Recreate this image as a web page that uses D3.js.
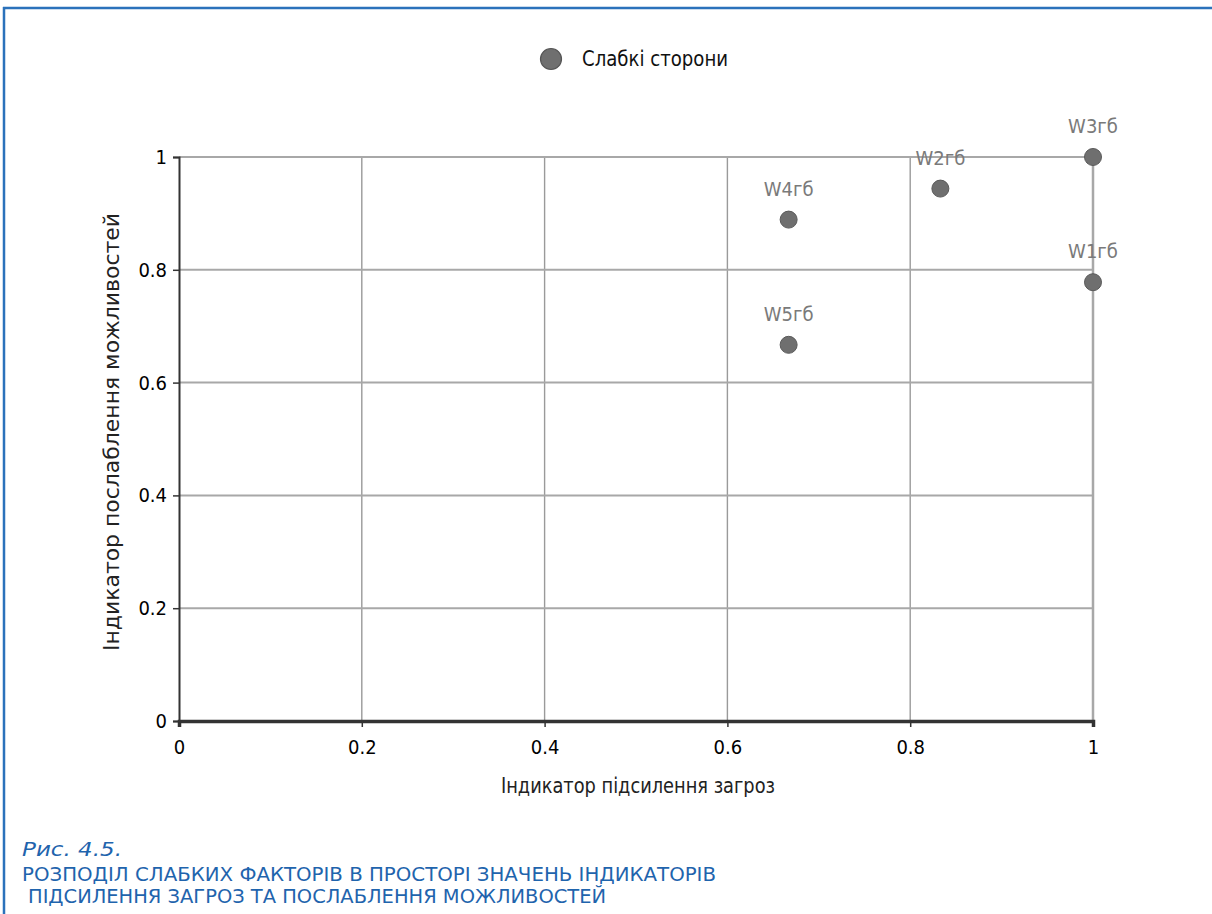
<!DOCTYPE html>
<html><head><meta charset="utf-8">
<script src="https://cdn.jsdelivr.net/npm/d3@7"></script>
<style>
html,body{margin:0;padding:0;background:#fff;}
svg{display:block;}
</style></head>
<body>
<svg id="chart" width="1212" height="914"></svg>
<script>
const labels = ["W1гб","W2гб","W3гб","W4гб","W5гб"];
const xValues = [1, 0.833, 1, 0.667, 0.667];
const yValues = [0.778, 0.944, 1, 0.889, 0.667];
const xTicks = [0, 0.2, 0.4, 0.6, 0.8, 1];
const yTicks = [0, 0.2, 0.4, 0.6, 0.8, 1];
const tickLabels = ["0","0.2","0.4","0.6","0.8","1"];
const seriesName = "Слабкі сторони";
const xTitle = "Індикатор підсилення загроз";
const yTitle = "Індикатор послаблення можливостей";
const captionLines = ["Рис.  4.5.", "РОЗПОДІЛ СЛАБКИХ ФАКТОРІВ В ПРОСТОРІ ЗНАЧЕНЬ ІНДИКАТОРІВ", " ПІДСИЛЕННЯ ЗАГРОЗ ТА ПОСЛАБЛЕННЯ МОЖЛИВОСТЕЙ"];

const svg = d3.select("#chart");
const font = "'DejaVu Sans Condensed','Liberation Sans',Arial,sans-serif";
const capFont = "'DejaVu Sans Condensed','DejaVu Sans',sans-serif";
const blue = "#1f64ad";

// frame
svg.append("line").attr("x1",3).attr("x2",1212).attr("y1",8).attr("y2",8).attr("stroke","#2b72bb").attr("stroke-width",2.5);
svg.append("line").attr("x1",4).attr("x2",4).attr("y1",7).attr("y2",914).attr("stroke","#2b72bb").attr("stroke-width",2.5);

const x = d3.scaleLinear().domain([0,1]).range([179,1093]);
const y = d3.scaleLinear().domain([0,1]).range([721,157]);

// grid
const g = svg.append("g");
g.selectAll(".vg").data(xTicks.slice(1)).join("line")
  .attr("x1",d=>x(d)).attr("x2",d=>x(d)).attr("y1",y(0)).attr("y2",y(1))
  .attr("stroke",d=>d===1?"#a8a8a8":"#9a9a9a").attr("stroke-width",d=>d===1?2.5:1.4);
g.selectAll(".hg").data(yTicks.slice(1)).join("line")
  .attr("x1",x(0)).attr("x2",x(1)).attr("y1",d=>y(d)).attr("y2",d=>y(d))
  .attr("stroke","#a8a8a8").attr("stroke-width",2);

// axes
const xAxis = svg.append("g").attr("transform",`translate(0,${y(0)})`)
  .call(d3.axisBottom(x).tickValues(xTicks).tickFormat((d,i)=>tickLabels[i]).tickSize(6).tickPadding(13));
const yAxis = svg.append("g").attr("transform",`translate(${x(0)},0)`)
  .call(d3.axisLeft(y).tickValues(yTicks).tickFormat((d,i)=>tickLabels[i]).tickSize(6).tickPadding(6));
[xAxis,yAxis].forEach(a=>{
  a.select(".domain").attr("stroke","#333").attr("stroke-width",2);
  a.selectAll(".tick line").attr("stroke","#333").attr("stroke-width",1.5);
  a.selectAll(".tick text").attr("fill","#000").style("font-family",font).style("font-size","20px");
});
xAxis.select(".domain").attr("stroke-width",3.5);

// titles
svg.append("text").attr("x",638).attr("y",793).attr("text-anchor","middle")
  .style("font-family",font).style("font-size","22px").attr("fill","#222")
  .attr("textLength",274).attr("lengthAdjust","spacingAndGlyphs").text(xTitle);
svg.append("text").attr("transform","translate(119,432) rotate(-90)").attr("text-anchor","middle")
  .style("font-family",font).style("font-size","21px").attr("fill","#222")
  .attr("textLength",438).attr("lengthAdjust","spacingAndGlyphs").text(yTitle);

// points
const data = labels.map((l,i)=>({l, x:xValues[i], y:yValues[i]}));
svg.selectAll(".pt").data(data).join("circle")
  .attr("cx",d=>x(d.x)).attr("cy",d=>y(d.y)).attr("r",8.5)
  .attr("fill","#6f6f6f").attr("stroke","#5a5a5a").attr("stroke-width",1);
svg.selectAll(".lbl").data(data).join("text")
  .attr("x",d=>x(d.x)).attr("y",d=>y(d.y)-24).attr("text-anchor","middle")
  .style("font-family",font).style("font-size","20px").attr("fill","#7a7a7a").text(d=>d.l);

// legend
svg.append("circle").attr("cx",551).attr("cy",59).attr("r",10.5).attr("fill","#6f6f6f").attr("stroke","#555").attr("stroke-width",1.2);
svg.append("text").attr("x",582).attr("y",66).style("font-family",font).style("font-size","21px").attr("fill","#111")
  .attr("textLength",146).attr("lengthAdjust","spacingAndGlyphs").text(seriesName);

// caption
const cap = svg.append("g");
cap.append("text").attr("x",22).attr("y",856).style("font-family",capFont)
  .style("font-style","italic").style("font-size","19px").attr("fill",blue)
  .attr("textLength",100).attr("lengthAdjust","spacingAndGlyphs").text(captionLines[0]);
cap.append("text").attr("x",22).attr("y",881).style("font-family",capFont)
  .style("font-size","19px").attr("fill",blue)
  .attr("textLength",694).attr("lengthAdjust","spacingAndGlyphs").text(captionLines[1]);
cap.append("text").attr("x",28).attr("y",903).style("font-family",capFont)
  .style("font-size","19px").attr("fill",blue)
  .attr("textLength",578).attr("lengthAdjust","spacingAndGlyphs").text(captionLines[2].trim());
</script>
</body></html>
